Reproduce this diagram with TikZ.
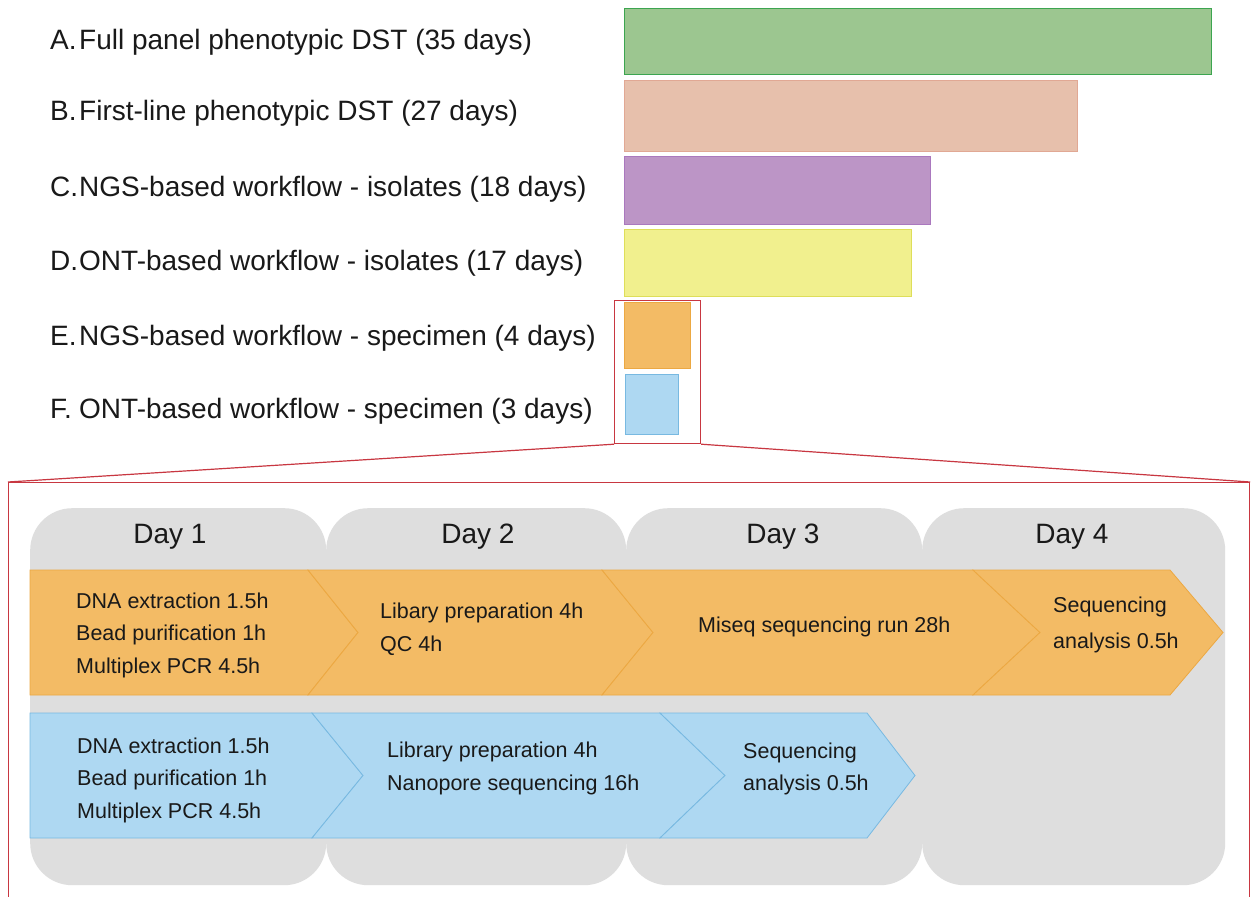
\documentclass[tikz,border=0pt]{standalone}
\usepackage{fontspec}
\setmainfont{Liberation Sans}
\definecolor{gA}{RGB}{156,198,144}
\definecolor{gAd}{RGB}{60,165,80}
\definecolor{sB}{RGB}{231,192,172}
\definecolor{sBd}{RGB}{225,168,148}
\definecolor{pC}{RGB}{188,149,198}
\definecolor{pCd}{RGB}{170,120,190}
\definecolor{yD}{RGB}{241,240,142}
\definecolor{yDd}{RGB}{222,222,90}
\definecolor{orf}{RGB}{243,187,101}
\definecolor{ord}{RGB}{236,168,66}
\definecolor{blf}{RGB}{174,216,242}
\definecolor{bld}{RGB}{120,185,225}
\definecolor{colgrey}{RGB}{222,222,222}
\definecolor{zred}{RGB}{200,55,65}
\definecolor{txt}{RGB}{25,25,25}
\begin{document}
\begin{tikzpicture}[x=1pt,y=-1pt,
  lbl/.style={anchor=base west,inner sep=0pt,text=txt,font=\fontsize{28}{33}\selectfont},
  bar/.style={anchor=north west,inner sep=0pt,draw,line width=1.2pt},
  daycol/.style={anchor=north west,inner sep=0pt,fill=colgrey,rounded corners=42pt},
  daylbl/.style={inner sep=0pt,text=txt,font=\fontsize{28}{32}\selectfont},
  stepo/.style={fill=orf,draw=ord,line width=0.8pt,line join=miter},
  stepb/.style={fill=blf,draw=bld,line width=0.8pt,line join=miter},
  stxt/.style={anchor=west,inner sep=0pt,align=left,text=txt,font=\fontsize{21.5}{32.5}\selectfont},
  zoombox/.style={draw=zred,line width=1.2pt,inner sep=0pt,anchor=north west}
]
\useasboundingbox (0,0) rectangle (1251,897);
\clip (0,0) rectangle (1251,897);
\fill[white] (0,0) rectangle (1251,897);

% labels
\node[lbl] (lA) at (50,49) {A.};
\node[lbl] (tA) at (79,49) {Full panel phenotypic DST (35 days)};
\node[lbl] (lB) at (50,120) {B.};
\node[lbl] (tB) at (79,120) {First-line phenotypic DST (27 days)};
\node[lbl] (lC) at (50,196) {C.};
\node[lbl] (tC) at (79,196) {NGS-based workflow - isolates (18 days)};
\node[lbl] (lD) at (50,270) {D.};
\node[lbl] (tD) at (79,270) {ONT-based workflow - isolates (17 days)};
\node[lbl] (lE) at (50,345) {E.};
\node[lbl] (tE) at (79,345) {NGS-based workflow - specimen (4 days)};
\node[lbl] (lF) at (50,418) {F.};
\node[lbl] (tF) at (79,418) {ONT-based workflow - specimen (3 days)};

% bars
\node[bar,fill=gA,draw=gAd,minimum width=587pt,minimum height=66pt] (bA) at (624,8) {};
\node[bar,fill=sB,draw=sBd,minimum width=453pt,minimum height=71pt] (bB) at (624,80) {};
\node[bar,fill=pC,draw=pCd,minimum width=306pt,minimum height=68pt] (bC) at (624,156) {};
\node[bar,fill=yD,draw=yDd,minimum width=287pt,minimum height=67pt] (bD) at (624,229) {};
\node[bar,fill=orf,draw=ord,line width=0.8pt,minimum width=66pt,minimum height=66pt] (bE) at (624,302) {};
\node[bar,fill=blf,draw=bld,line width=0.8pt,minimum width=53pt,minimum height=60pt] (bF) at (625,374) {};

% zoom boxes
\node[zoombox,minimum width=86pt,minimum height=143pt] (zs) at (614,300) {};
\node[zoombox,minimum width=1241pt,minimum height=440pt] (zb) at (8,482) {};
\draw[zred,line width=1.2pt] (zs.south west) -- (zb.north west);
\draw[zred,line width=1.2pt] (zs.south east) -- (zb.north east);

% day columns
\node[daycol,minimum width=296pt,minimum height=377pt] (c1) at (30,508) {};
\node[daycol,minimum width=300pt,minimum height=377pt] (c2) at (326,508) {};
\node[daycol,minimum width=296pt,minimum height=377pt] (c3) at (626,508) {};
\node[daycol,minimum width=303pt,minimum height=377pt] (c4) at (922,508) {};
\node[daylbl] (d1) at (170,537) {Day 1};
\node[daylbl] (d2) at (478,537) {Day 2};
\node[daylbl] (d3) at (783,537) {Day 3};
\node[daylbl] (d4) at (1072,537) {Day 4};

% orange row
\draw[stepo] (30,570) -- (308,570) -- (358,632.5) -- (308,695) -- (30,695) -- cycle;
\draw[stepo] (308,570) -- (602,570) -- (653,632.5) -- (602,695) -- (308,695) -- (358,632.5) -- cycle;
\draw[stepo] (602,570) -- (973,570) -- (1040,632.5) -- (973,695) -- (602,695) -- (653,632.5) -- cycle;
\draw[stepo] (973,570) -- (1170,570) -- (1223,632.5) -- (1170,695) -- (973,695) -- (1040,632.5) -- cycle;

% blue row
\draw[stepb] (30,713) -- (312,713) -- (363,775.5) -- (312,838) -- (30,838) -- cycle;
\draw[stepb] (312,713) -- (660,713) -- (725,775.5) -- (660,838) -- (312,838) -- (363,775.5) -- cycle;
\draw[stepb] (660,713) -- (867,713) -- (915,775.5) -- (867,838) -- (660,838) -- (725,775.5) -- cycle;

% step texts
\node[stxt] (o1) at (76,635) {DNA extraction 1.5h\\Bead purification 1h\\Multiplex PCR 4.5h};
\node[stxt] (o2) at (380,629) {Libary preparation 4h\\QC 4h};
\node[stxt] (o3) at (698,627) {Miseq sequencing run 28h};
\node[stxt,font=\fontsize{21.5}{36}\selectfont] (o4) at (1053,625) {Sequencing\\analysis 0.5h};
\node[stxt] (u1) at (77,780) {DNA extraction 1.5h\\Bead purification 1h\\Multiplex PCR 4.5h};
\node[stxt] (u2) at (387,768.5) {Library preparation 4h\\Nanopore sequencing 16h};
\node[stxt] (u3) at (743,769) {Sequencing\\analysis 0.5h};
\end{tikzpicture}
\end{document}
